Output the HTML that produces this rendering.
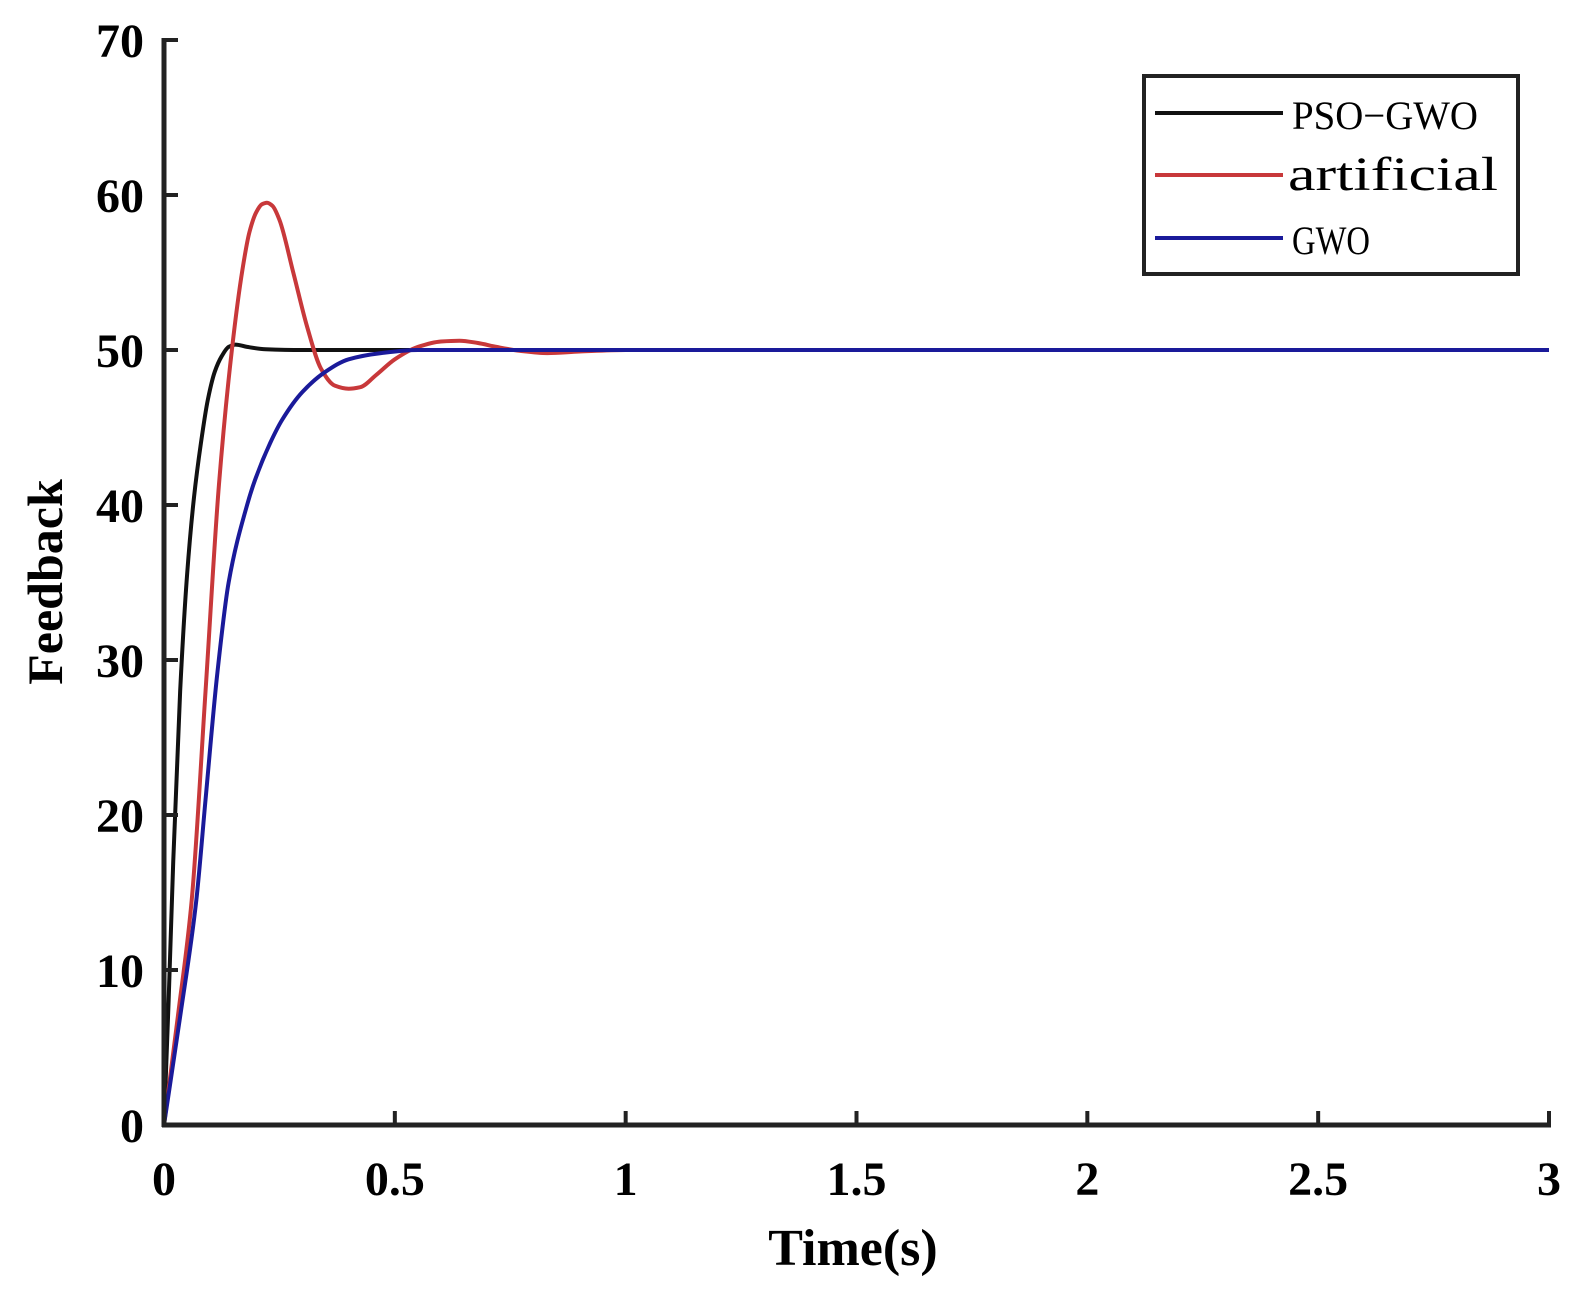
<!DOCTYPE html>
<html><head><meta charset="utf-8"><style>
html,body{margin:0;padding:0;background:#fff;}
svg{display:block;}
</style></head><body>
<svg id="chart" width="1576" height="1302" viewBox="0 0 1576 1302" xmlns="http://www.w3.org/2000/svg">
<g id="plot"></g>
<g id="axes"></g>
<text x="853" y="1265" text-anchor="middle" font-family="Liberation Serif, serif" font-weight="bold" font-size="52">Time(s)</text>
<text transform="translate(62,582) rotate(-90)" text-anchor="middle" font-family="Liberation Serif, serif" font-weight="bold" font-size="50">Feedback</text>
<g>
<rect x="1144" y="76" width="374" height="198" fill="#fff" stroke="#222" stroke-width="4"/>
<line x1="1155" y1="113" x2="1283" y2="113" stroke="#111" stroke-width="4"/>
<text x="1292" y="129" font-family="Liberation Serif, serif" font-size="40" textLength="186" lengthAdjust="spacingAndGlyphs">PSO−GWO</text>
<line x1="1155" y1="175" x2="1283" y2="175" stroke="#c8383a" stroke-width="4"/>
<text x="1288" y="190" font-family="Liberation Serif, serif" font-size="48" textLength="210" lengthAdjust="spacingAndGlyphs">artificial</text>
<line x1="1155" y1="238" x2="1283" y2="238" stroke="#1a1a9a" stroke-width="4"/>
<text x="1292" y="254" font-family="Liberation Serif, serif" font-size="40" textLength="78" lengthAdjust="spacingAndGlyphs">GWO</text>
</g>
</svg>
<script>
const xTicks = [0, 0.5, 1, 1.5, 2, 2.5, 3];
const xTickLabels = ["0", "0.5", "1", "1.5", "2", "2.5", "3"];
const yTicks = [0, 10, 20, 30, 40, 50, 60, 70];
const yTickLabels = ["0", "10", "20", "30", "40", "50", "60", "70"];
const psoT = [0, 0.01, 0.02, 0.035, 0.05, 0.065, 0.08, 0.095, 0.11, 0.125, 0.14, 0.155, 0.18, 0.22, 0.3, 1, 2, 3];
const psoV = [0, 8, 17, 28, 35.5, 40.5, 44, 46.8, 48.6, 49.6, 50.2, 50.35, 50.2, 50.05, 50, 50, 50, 50];
const artT = [0, 0.03, 0.06, 0.09, 0.119, 0.147, 0.17, 0.185, 0.2, 0.212, 0.223, 0.235, 0.25, 0.28, 0.31, 0.34, 0.37, 0.40, 0.425, 0.46, 0.5, 0.55, 0.6, 0.64, 0.68, 0.72, 0.77, 0.83, 0.9, 1.0, 2, 3];
const artV = [0, 7, 14.5, 28, 41.3, 50, 55.2, 57.6, 58.9, 59.4, 59.5, 59.3, 58.4, 55, 51.5, 48.8, 47.7, 47.5, 47.6, 48.4, 49.4, 50.2, 50.55, 50.6, 50.45, 50.2, 49.95, 49.8, 49.9, 50, 50, 50];
const gwoT = [0, 0.035, 0.07, 0.09, 0.115, 0.14, 0.18, 0.197, 0.23, 0.256, 0.3, 0.35, 0.4, 0.47, 0.55, 0.7, 1, 2, 3];
const gwoV = [0, 7, 14.5, 21, 29, 35, 40, 41.6, 44, 45.5, 47.3, 48.6, 49.4, 49.8, 50, 50, 50, 50, 50];

const X0 = 164, X1 = 1549, Y0 = 1125, Y1 = 40;
const xs = t => X0 + (t / 3) * (X1 - X0);
const ys = v => Y0 - (v / 70) * (Y0 - Y1);
const NS = "http://www.w3.org/2000/svg";
const plot = document.getElementById('plot');
const axes = document.getElementById('axes');

function mk(tag, attrs, parent) {
  const e = document.createElementNS(NS, tag);
  for (const k in attrs) e.setAttribute(k, attrs[k]);
  parent.appendChild(e);
  return e;
}
function series(ts, vs, color, name) {
  const n = ts.length;
  const dl = [], m = [];
  for (let i = 0; i < n - 1; i++) dl.push((vs[i + 1] - vs[i]) / (ts[i + 1] - ts[i]));
  m[0] = dl[0]; m[n - 1] = dl[n - 2];
  for (let i = 1; i < n - 1; i++) {
    if (dl[i - 1] * dl[i] <= 0) m[i] = 0;
    else { const h0 = ts[i] - ts[i - 1], h1 = ts[i + 1] - ts[i];
      m[i] = 3 * (h0 + h1) / ((2 * h1 + h0) / dl[i - 1] + (h1 + 2 * h0) / dl[i]); }
  }
  let d = `M${xs(ts[0])},${ys(vs[0])}`;
  for (let i = 0; i < n - 1; i++) {
    const h = ts[i + 1] - ts[i];
    d += ` C${xs(ts[i] + h / 3)},${ys(vs[i] + m[i] * h / 3)} ${xs(ts[i + 1] - h / 3)},${ys(vs[i + 1] - m[i + 1] * h / 3)} ${xs(ts[i + 1])},${ys(vs[i + 1])}`;
  }
  const el = mk('path', {d: d, fill: 'none', stroke: color, 'stroke-width': 4, 'stroke-linejoin': 'round'}, plot);
  
  
}
series(psoT, psoV, '#111', 'line-pso-gwo');
series(artT, artV, '#c8383a', 'line-artificial');
series(gwoT, gwoV, '#1a1a9a', 'line-gwo');

const xAxis = mk('line', {x1: X0 - 2, y1: Y0, x2: X1 + 2, y2: Y0, stroke: '#222', 'stroke-width': 5}, axes);


const yAxis = mk('line', {x1: X0, y1: Y0 + 2, x2: X0, y2: Y1 - 2, stroke: '#222', 'stroke-width': 5}, axes);



xTicks.forEach((t, i) => {
  const tk = mk('line', {x1: xs(t), y1: Y0, x2: xs(t), y2: Y0 - 14, stroke: '#222', 'stroke-width': 4}, axes);
  
  
  const lb = mk('text', {x: xs(t), y: 1195, 'text-anchor': 'middle', 'font-family': 'Liberation Serif, serif', 'font-weight': 'bold', 'font-size': 48}, axes);
  lb.textContent = xTickLabels[i];
  
  
});
yTicks.forEach((v, i) => {
  const tk = mk('line', {x1: X0, y1: ys(v), x2: X0 + 14, y2: ys(v), stroke: '#222', 'stroke-width': 4}, axes);
  
  
  const lb = mk('text', {x: 144, y: ys(v) + 17, 'text-anchor': 'end', 'font-family': 'Liberation Serif, serif', 'font-weight': 'bold', 'font-size': 48}, axes);
  lb.textContent = yTickLabels[i];
  
  
});
</script>
</body></html>
